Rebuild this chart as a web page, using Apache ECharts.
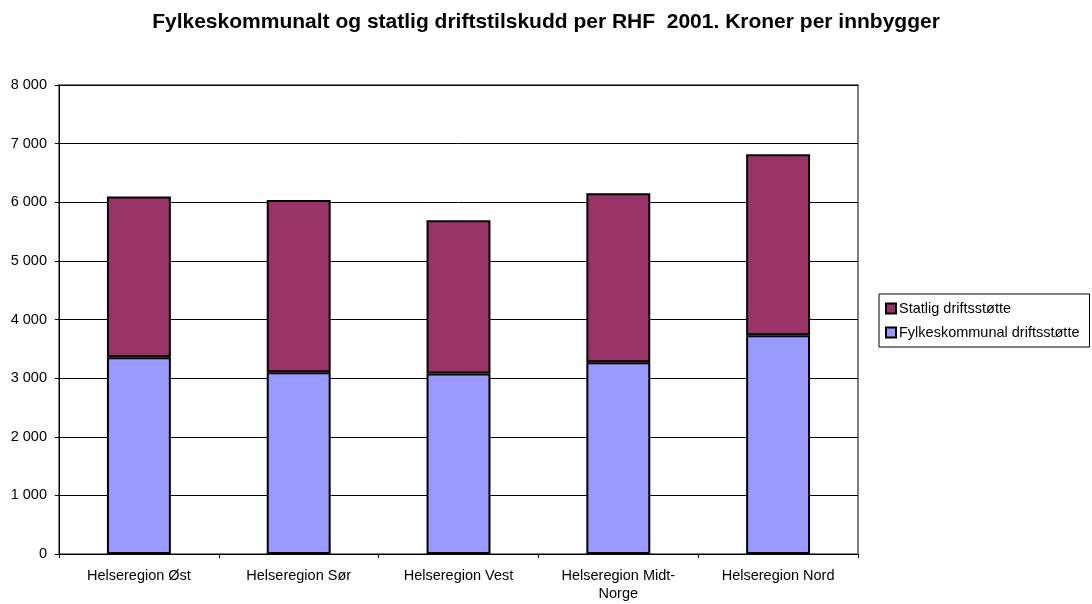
<!DOCTYPE html>
<html>
<head>
<meta charset="utf-8">
<script src="https://cdn.jsdelivr.net/npm/echarts@6/dist/echarts.min.js"></script>
<style>
    html, body { margin: 0; padding: 0; background: #fff; }
    #chart { width: 1092px; height: 604px; }
</style>
</head>
<body>
<div id="chart"></div>
<script>
    // regioner og verdier (kr per innbygger), lest av figuren
    var regions = ['Helseregion Øst', 'Helseregion Sør', 'Helseregion Vest', 'Helseregion Midt-Norge', 'Helseregion Nord'];
    var fylkeskommunal = [3355, 3100, 3077, 3270, 3730];
    var statlig = [2745, 2940, 2618, 2885, 3090];
    var yTicks = [0, 1000, 2000, 3000, 4000, 5000, 6000, 7000, 8000];

    var font = 'Liberation Sans, Arial, sans-serif';
    var chart = echarts.init(document.getElementById('chart'));

    chart.setOption({
        animation: false,
        backgroundColor: '#fff',
        title: {
            text: 'Fylkeskommunalt og statlig driftstilskudd per RHF  2001. Kroner per innbygger',
            left: 'center',
            top: 7,
            textStyle: { fontFamily: font, fontSize: 21, fontWeight: 'bold', color: '#000' }
        },
        legend: {
            data: ['Statlig driftsstøtte', 'Fylkeskommunal driftsstøtte'],
            orient: 'vertical',
            left: 879,
            top: 294,
            padding: [7, 10, 7, 6],
            itemGap: 9,
            itemWidth: 10,
            itemHeight: 10,
            icon: 'rect',
            borderColor: '#000',
            borderWidth: 1,
            textStyle: { fontFamily: font, fontSize: 14.5, color: '#000', padding: [0, 0, 0, -2] }
        },
        grid: {
            left: 59,
            right: 234,
            top: 85,
            bottom: 50,
            show: true,
            borderColor: '#808080',
            borderWidth: 2,
            backgroundColor: '#fff'
        },
        xAxis: {
            type: 'category',
            data: regions,
            axisLine: { lineStyle: { color: '#000', width: 1 } },
            axisTick: { show: true, alignWithLabel: false, length: 4, lineStyle: { color: '#000' } },
            axisLabel: {
                fontFamily: font,
                fontSize: 14.5,
                color: '#000',
                margin: 13,
                lineHeight: 18,
                formatter: function (v) {
                    return v.replace('Midt-', 'Midt-\n');
                }
            }
        },
        yAxis: {
            type: 'value',
            min: yTicks[0],
            max: yTicks[yTicks.length - 1],
            interval: 1000,
            axisLine: { show: true, lineStyle: { color: '#000', width: 1 } },
            axisTick: { show: true, length: 4, lineStyle: { color: '#000' } },
            splitLine: { lineStyle: { color: '#000', width: 1 } },
            axisLabel: {
                fontFamily: font,
                fontSize: 14.5,
                color: '#000',
                margin: 12,
                formatter: function (v) {
                    return String(v).replace(/\B(?=(\d{3})+(?!\d))/g, ' ');
                }
            }
        },
        series: [
            {
                name: 'Fylkeskommunal driftsstøtte',
                type: 'bar',
                stack: 'total',
                barWidth: '40%',
                data: fylkeskommunal,
                itemStyle: { color: '#9999FF', borderColor: '#000', borderWidth: 2 }
            },
            {
                name: 'Statlig driftsstøtte',
                type: 'bar',
                stack: 'total',
                barWidth: '40%',
                data: statlig,
                itemStyle: { color: '#993366', borderColor: '#000', borderWidth: 2 }
            }
        ]
    });
</script>
</body>
</html>
